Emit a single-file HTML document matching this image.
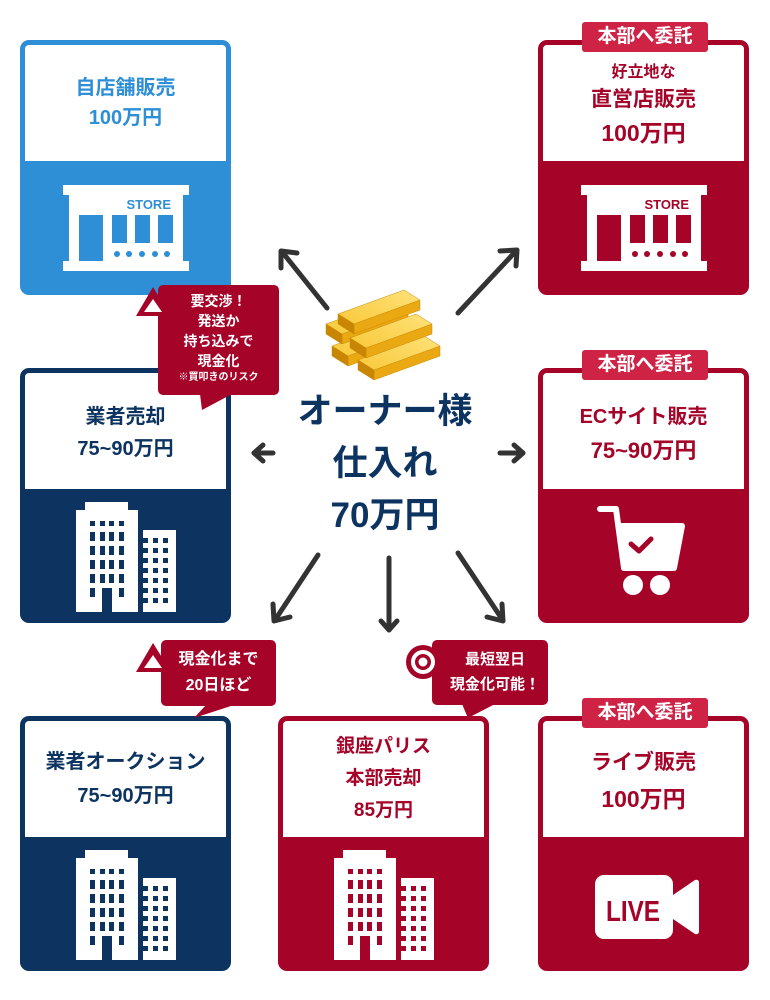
<!DOCTYPE html>
<html><head><meta charset="utf-8">
<style>
body{margin:0;width:770px;height:1000px;background:#fff;position:relative;overflow:hidden;font-family:"Liberation Sans","Noto Sans CJK JP",sans-serif;font-weight:bold}
.card{position:absolute;width:211px;height:255px;border-radius:9px;box-sizing:border-box}
.card .top{position:absolute;left:5px;top:5px;right:5px;background:#fff;border-radius:4px 4px 0 0;text-align:center;display:flex;flex-direction:column;justify-content:center}
.badge{position:absolute;left:44px;top:-18px;width:126px;height:30px;background:#cf2346;color:#fff;font-size:19px;line-height:30px;text-align:center;border-radius:3px}
.bubble{position:absolute;background:#a50328;color:#fff;border-radius:5px;text-align:center}
.abs{position:absolute}
.t{color:#0d3461}
</style></head><body>

<!-- Card 1 blue -->
<div class="card" style="left:20px;top:40px;background:#2f8fd6">
 <div class="top" style="height:116px;color:#2f8fd6;font-size:20px;line-height:30px"><div>自店舗販売</div><div>100万円</div></div>
 <svg class="abs" style="left:43px;top:145px" width="126" height="86" viewBox="0 0 126 86">
  <rect x="0" y="0" width="126" height="86" fill="#fff"/>
  <rect x="0" y="10" width="6" height="66" fill="#2f8fd6"/><rect x="120" y="10" width="6" height="66" fill="#2f8fd6"/>
  <text x="108" y="24" font-size="13" fill="#2f8fd6" text-anchor="end" font-weight="bold" font-family="Liberation Sans">STORE</text>
  <rect x="16" y="30" width="24" height="46" fill="#2f8fd6"/>
  <rect x="49" y="30" width="15" height="28" fill="#2f8fd6"/><rect x="72" y="30" width="15" height="28" fill="#2f8fd6"/><rect x="95" y="30" width="15" height="28" fill="#2f8fd6"/>
  <g fill="#2f8fd6"><circle cx="54" cy="69" r="3"/><circle cx="66" cy="69" r="3"/><circle cx="79" cy="69" r="3"/><circle cx="92" cy="69" r="3"/><circle cx="104" cy="69" r="3"/></g>
 </svg>
</div>

<!-- Card top right -->
<div class="card" style="left:538px;top:40px;background:#a50328">
 <div class="top" style="height:116px;color:#a50328"><div style="font-size:16px;line-height:22px;margin-top:6px">好立地な</div><div style="font-size:21px;line-height:32px">直営店販売</div><div style="font-size:23px;line-height:34px">100万円</div></div>
 <div class="badge">本部へ委託</div>
 <svg class="abs" style="left:43px;top:145px" width="126" height="86" viewBox="0 0 126 86">
  <rect x="0" y="0" width="126" height="86" fill="#fff"/>
  <rect x="0" y="10" width="6" height="66" fill="#a50328"/><rect x="120" y="10" width="6" height="66" fill="#a50328"/>
  <text x="108" y="24" font-size="13" fill="#a50328" text-anchor="end" font-weight="bold" font-family="Liberation Sans">STORE</text>
  <rect x="16" y="30" width="24" height="46" fill="#a50328"/>
  <rect x="49" y="30" width="15" height="28" fill="#a50328"/><rect x="72" y="30" width="15" height="28" fill="#a50328"/><rect x="95" y="30" width="15" height="28" fill="#a50328"/>
  <g fill="#a50328"><circle cx="54" cy="69" r="3"/><circle cx="66" cy="69" r="3"/><circle cx="79" cy="69" r="3"/><circle cx="92" cy="69" r="3"/><circle cx="104" cy="69" r="3"/></g>
 </svg>
</div>

<!-- Card row2 left navy -->
<div class="card" style="left:20px;top:368px;background:#0d3461">
 <div class="top" style="height:116px;color:#0d3461;font-size:20px;line-height:32px;padding-top:4px;box-sizing:border-box"><div>業者売却</div><div>75~90万円</div></div>
 <svg class="abs" style="left:56px;top:134px" width="100" height="110" viewBox="0 0 100 110" fill="#fff">
  <rect x="9" y="0" width="43" height="10"/><rect x="0" y="8" width="62" height="102"/><rect x="67" y="28" width="33" height="82"/>
  <g fill="#0d3461">
   <rect x="14" y="19" width="5" height="5"/><rect x="24" y="19" width="5" height="5"/><rect x="33" y="19" width="5" height="5"/><rect x="43" y="19" width="5" height="5"/>
   <rect x="14" y="30" width="5" height="9"/><rect x="24" y="30" width="5" height="9"/><rect x="33" y="30" width="5" height="9"/><rect x="43" y="30" width="5" height="9"/>
   <rect x="14" y="44" width="5" height="9"/><rect x="24" y="44" width="5" height="9"/><rect x="33" y="44" width="5" height="9"/><rect x="43" y="44" width="5" height="9"/>
   <rect x="14" y="58" width="5" height="9"/><rect x="24" y="58" width="5" height="9"/><rect x="33" y="58" width="5" height="9"/><rect x="43" y="58" width="5" height="9"/>
   <rect x="14" y="72" width="5" height="9"/><rect x="24" y="72" width="5" height="9"/><rect x="33" y="72" width="5" height="9"/><rect x="43" y="72" width="5" height="9"/>
   <rect x="14" y="86" width="5" height="9"/><rect x="43" y="86" width="5" height="9"/><rect x="26" y="86" width="10" height="24"/>
   <rect x="67" y="36" width="5" height="5"/><rect x="77" y="36" width="5" height="5"/><rect x="87" y="36" width="5" height="5"/>
   <rect x="67" y="46" width="5" height="5"/><rect x="77" y="46" width="5" height="5"/><rect x="87" y="46" width="5" height="5"/>
   <rect x="67" y="56" width="5" height="5"/><rect x="77" y="56" width="5" height="5"/><rect x="87" y="56" width="5" height="5"/>
   <rect x="67" y="66" width="5" height="5"/><rect x="77" y="66" width="5" height="5"/><rect x="87" y="66" width="5" height="5"/>
   <rect x="67" y="76" width="5" height="5"/><rect x="77" y="76" width="5" height="5"/><rect x="87" y="76" width="5" height="5"/>
   <rect x="67" y="86" width="5" height="5"/><rect x="77" y="86" width="5" height="5"/><rect x="87" y="86" width="5" height="5"/>
   <rect x="67" y="96" width="5" height="5"/><rect x="77" y="96" width="5" height="5"/><rect x="87" y="96" width="5" height="5"/>
  </g>
 </svg>
</div>

<!-- Card row2 right EC -->
<div class="card" style="left:538px;top:368px;background:#a50328">
 <div class="top" style="height:116px;color:#a50328;padding-top:6px;box-sizing:border-box"><div style="font-size:20px;line-height:34px">ECサイト販売</div><div style="font-size:22px;line-height:34px">75~90万円</div></div>
 <div class="badge">本部へ委託</div>
 <svg class="abs" style="left:58px;top:138px" width="90" height="92" viewBox="0 0 90 92">
  <path d="M4 3 H20 L28 62 H78 L86 20 H24" fill="none" stroke="#fff" stroke-width="6" stroke-linejoin="round" stroke-linecap="round"/>
  <path d="M24 19 H87 L80 62 H29 Z" fill="#fff"/>
  <path d="M35 38 L43 45 L55 33" fill="none" stroke="#a50328" stroke-width="5" stroke-linecap="round" stroke-linejoin="round"/>
  <circle cx="37" cy="79" r="10" fill="#fff"/><circle cx="64" cy="79" r="10" fill="#fff"/>
 </svg>
</div>

<!-- Row3 left -->
<div class="card" style="left:20px;top:716px;background:#0d3461">
 <div class="top" style="height:116px;color:#0d3461;font-size:20px;line-height:34px"><div>業者オークション</div><div>75~90万円</div></div>
 <svg class="abs" style="left:56px;top:134px" width="100" height="110" viewBox="0 0 100 110" fill="#fff">
  <rect x="9" y="0" width="43" height="10"/><rect x="0" y="8" width="62" height="102"/><rect x="67" y="28" width="33" height="82"/>
  <g fill="#0d3461">
   <rect x="14" y="19" width="5" height="5"/><rect x="24" y="19" width="5" height="5"/><rect x="33" y="19" width="5" height="5"/><rect x="43" y="19" width="5" height="5"/>
   <rect x="14" y="30" width="5" height="9"/><rect x="24" y="30" width="5" height="9"/><rect x="33" y="30" width="5" height="9"/><rect x="43" y="30" width="5" height="9"/>
   <rect x="14" y="44" width="5" height="9"/><rect x="24" y="44" width="5" height="9"/><rect x="33" y="44" width="5" height="9"/><rect x="43" y="44" width="5" height="9"/>
   <rect x="14" y="58" width="5" height="9"/><rect x="24" y="58" width="5" height="9"/><rect x="33" y="58" width="5" height="9"/><rect x="43" y="58" width="5" height="9"/>
   <rect x="14" y="72" width="5" height="9"/><rect x="24" y="72" width="5" height="9"/><rect x="33" y="72" width="5" height="9"/><rect x="43" y="72" width="5" height="9"/>
   <rect x="14" y="86" width="5" height="9"/><rect x="43" y="86" width="5" height="9"/><rect x="26" y="86" width="10" height="24"/>
   <rect x="67" y="36" width="5" height="5"/><rect x="77" y="36" width="5" height="5"/><rect x="87" y="36" width="5" height="5"/>
   <rect x="67" y="46" width="5" height="5"/><rect x="77" y="46" width="5" height="5"/><rect x="87" y="46" width="5" height="5"/>
   <rect x="67" y="56" width="5" height="5"/><rect x="77" y="56" width="5" height="5"/><rect x="87" y="56" width="5" height="5"/>
   <rect x="67" y="66" width="5" height="5"/><rect x="77" y="66" width="5" height="5"/><rect x="87" y="66" width="5" height="5"/>
   <rect x="67" y="76" width="5" height="5"/><rect x="77" y="76" width="5" height="5"/><rect x="87" y="76" width="5" height="5"/>
   <rect x="67" y="86" width="5" height="5"/><rect x="77" y="86" width="5" height="5"/><rect x="87" y="86" width="5" height="5"/>
   <rect x="67" y="96" width="5" height="5"/><rect x="77" y="96" width="5" height="5"/><rect x="87" y="96" width="5" height="5"/>
  </g>
 </svg>
</div>

<!-- Row3 middle -->
<div class="card" style="left:278px;top:716px;background:#a50328">
 <div class="top" style="height:116px;color:#a50328;font-size:19px;line-height:32px"><div>銀座パリス</div><div>本部売却</div><div>85万円</div></div>
 <svg class="abs" style="left:56px;top:134px" width="100" height="110" viewBox="0 0 100 110" fill="#fff">
  <rect x="9" y="0" width="43" height="10"/><rect x="0" y="8" width="62" height="102"/><rect x="67" y="28" width="33" height="82"/>
  <g fill="#a50328">
   <rect x="14" y="19" width="5" height="5"/><rect x="24" y="19" width="5" height="5"/><rect x="33" y="19" width="5" height="5"/><rect x="43" y="19" width="5" height="5"/>
   <rect x="14" y="30" width="5" height="9"/><rect x="24" y="30" width="5" height="9"/><rect x="33" y="30" width="5" height="9"/><rect x="43" y="30" width="5" height="9"/>
   <rect x="14" y="44" width="5" height="9"/><rect x="24" y="44" width="5" height="9"/><rect x="33" y="44" width="5" height="9"/><rect x="43" y="44" width="5" height="9"/>
   <rect x="14" y="58" width="5" height="9"/><rect x="24" y="58" width="5" height="9"/><rect x="33" y="58" width="5" height="9"/><rect x="43" y="58" width="5" height="9"/>
   <rect x="14" y="72" width="5" height="9"/><rect x="24" y="72" width="5" height="9"/><rect x="33" y="72" width="5" height="9"/><rect x="43" y="72" width="5" height="9"/>
   <rect x="14" y="86" width="5" height="9"/><rect x="43" y="86" width="5" height="9"/><rect x="26" y="86" width="10" height="24"/>
   <rect x="67" y="36" width="5" height="5"/><rect x="77" y="36" width="5" height="5"/><rect x="87" y="36" width="5" height="5"/>
   <rect x="67" y="46" width="5" height="5"/><rect x="77" y="46" width="5" height="5"/><rect x="87" y="46" width="5" height="5"/>
   <rect x="67" y="56" width="5" height="5"/><rect x="77" y="56" width="5" height="5"/><rect x="87" y="56" width="5" height="5"/>
   <rect x="67" y="66" width="5" height="5"/><rect x="77" y="66" width="5" height="5"/><rect x="87" y="66" width="5" height="5"/>
   <rect x="67" y="76" width="5" height="5"/><rect x="77" y="76" width="5" height="5"/><rect x="87" y="76" width="5" height="5"/>
   <rect x="67" y="86" width="5" height="5"/><rect x="77" y="86" width="5" height="5"/><rect x="87" y="86" width="5" height="5"/>
   <rect x="67" y="96" width="5" height="5"/><rect x="77" y="96" width="5" height="5"/><rect x="87" y="96" width="5" height="5"/>
  </g>
 </svg>
</div>

<!-- Row3 right live -->
<div class="card" style="left:538px;top:716px;background:#a50328">
 <div class="top" style="height:116px;color:#a50328;padding-top:4px;box-sizing:border-box"><div style="font-size:21px;line-height:36px">ライブ販売</div><div style="font-size:23px;line-height:36px">100万円</div></div>
 <div class="badge">本部へ委託</div>
 <svg class="abs" style="left:57px;top:159px" width="104" height="64" viewBox="0 0 104 64">
  <rect x="0" y="0" width="78" height="64" rx="9" fill="#fff"/>
  <path d="M78 20 L100 5 Q104 4 104 8 V56 Q104 60 100 59 L78 44 Z" fill="#fff"/>
  <text x="11" y="46" font-size="29" font-weight="bold" fill="#a50328" font-family="Liberation Sans" textLength="54" lengthAdjust="spacingAndGlyphs">LIVE</text>
 </svg>
</div>

<!-- Bubble 1 -->
<div class="bubble" style="left:158px;top:285px;width:121px;height:110px;font-size:14px;line-height:20px;padding-top:6px;box-sizing:border-box">要交渉！<br>発送か<br>持ち込みで<br>現金化<div style="font-size:10px;line-height:14px">※買叩きのリスク</div></div>
<svg class="abs" style="left:136px;top:284px" width="100" height="130"><polygon points="64,110 96,110 66,126" fill="#a50328"/><polygon points="17,3 35,32 0,32" fill="#a50328"/><polygon points="17,15 26,28 8,28" fill="#fff"/></svg>

<!-- Bubble 2 -->
<div class="bubble" style="left:161px;top:640px;width:115px;height:66px;font-size:16px;line-height:26px;padding-top:7px;box-sizing:border-box">現金化まで<br>20日ほど</div>
<svg class="abs" style="left:136px;top:640px" width="100" height="80"><polygon points="70,65 98,65 58,78" fill="#a50328"/><polygon points="17,3 35,32 0,32" fill="#a50328"/><polygon points="17,15 26,28 8,28" fill="#fff"/></svg>

<!-- Bubble 3 -->
<div class="bubble" style="left:432px;top:640px;width:116px;height:65px;font-size:15px;line-height:25px;padding:7px 0 0 10px;box-sizing:border-box">最短翌日<br>現金化可能！</div>
<svg class="abs" style="left:400px;top:640px" width="120" height="80"><polygon points="62,64 95,64 68,78" fill="#a50328"/><circle cx="23" cy="22" r="17" fill="#a50328"/><circle cx="23" cy="22" r="12" fill="#fff"/><circle cx="23" cy="22" r="8" fill="#a50328"/><circle cx="23" cy="22" r="4.5" fill="#fff"/></svg>

<!-- Arrows -->
<svg class="abs" style="left:0;top:0" width="770" height="1000">
 <g stroke="#333" stroke-width="5" fill="none" stroke-linecap="round" stroke-linejoin="round">
  <line x1="327" y1="308" x2="283" y2="253"/><polyline points="281,268 281,251 297,253"/>
  <line x1="458" y1="313" x2="516" y2="251"/><polyline points="500,251 517,250 516,266"/>
  <line x1="273" y1="453" x2="254" y2="453"/><polyline points="263,445 254,453 263,461"/>
  <line x1="500" y1="453" x2="523" y2="453"/><polyline points="514,445 523,453 514,461"/>
  <line x1="318" y1="555" x2="275" y2="620"/><polyline points="273,604 274,621 290,617"/>
  <line x1="389" y1="558" x2="389" y2="630"/><polyline points="381,621 389,630 397,621"/>
  <line x1="458" y1="553" x2="502" y2="619"/><polyline points="487,617 503,621 502,604"/>
 </g>
</svg>

<!-- Gold bars -->
<svg class="abs" style="left:312px;top:282px" width="150" height="100" viewBox="0 0 150 100">
 <defs>
  <linearGradient id="g" x1="0" y1="1" x2="1" y2="0"><stop offset="0" stop-color="#f8c93a"/><stop offset="1" stop-color="#ffe27a"/></linearGradient>
  <g id="bar" stroke="#c98a05" stroke-width="0.5">
   <polygon points="0,0 66,-24 66,-34 0,-10" fill="#eaa812"/>
   <polygon points="0,-10 66,-34 50,-44 -16,-20" fill="url(#g)"/>
   <polygon points="0,0 0,-10 -16,-20 -16,-10" fill="#c98605"/>
  </g>
 </defs>
 <use href="#bar" x="36" y="84"/>
 <use href="#bar" x="62" y="98"/>
 <use href="#bar" x="30" y="62"/>
 <use href="#bar" x="54" y="76"/>
 <use href="#bar" x="42" y="52"/>
</svg>

<!-- Center text -->
<div class="abs t" style="left:275px;top:386px;width:220px;text-align:center;font-size:35px;line-height:52px">オーナー様<br>仕入れ<br>70万円</div>

</body></html>
